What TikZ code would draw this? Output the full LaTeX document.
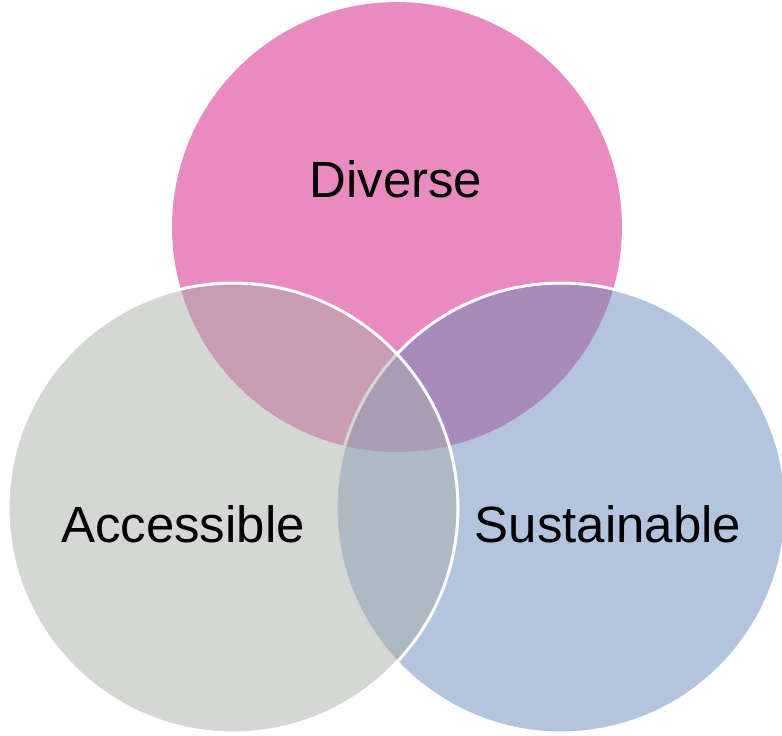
\documentclass[tikz,border=0pt]{standalone}
\usepackage{fontspec}
\setmainfont{Liberation Sans}
\usepackage{tikz}

\definecolor{pinkc}{RGB}{211,23,127}
\definecolor{bluec}{RGB}{103,139,187}
\definecolor{grayc}{RGB}{171,175,169}

\tikzset{
	ring/.style={circle, minimum size=9cm, inner sep=0pt, outer sep=0pt, fill opacity=0.5},
	rim/.style={draw=white, line width=1.7pt},
	word/.style={anchor=base, inner sep=0pt, font=\fontsize{29}{35}\selectfont}
}

\begin{document}
\begin{tikzpicture}[x=0.02cm, y=-0.02cm]
		
			\useasboundingbox (0,0) rectangle (782,735);
			
			\node[ring, fill=pinkc] (d) at (397,227) {};
			\node[ring, rim, fill=bluec] (s) at (561,508) {};
			\node[ring, rim, fill=grayc] (a) at (233,508) {};
			
			\node[word] (dt) at (396,197) {Diverse};
			\node[word] (at) at (183,542) {Accessible};
			\node[word] (st) at (608,542) {Sustainable};
			
		\end{tikzpicture}
\end{document}
